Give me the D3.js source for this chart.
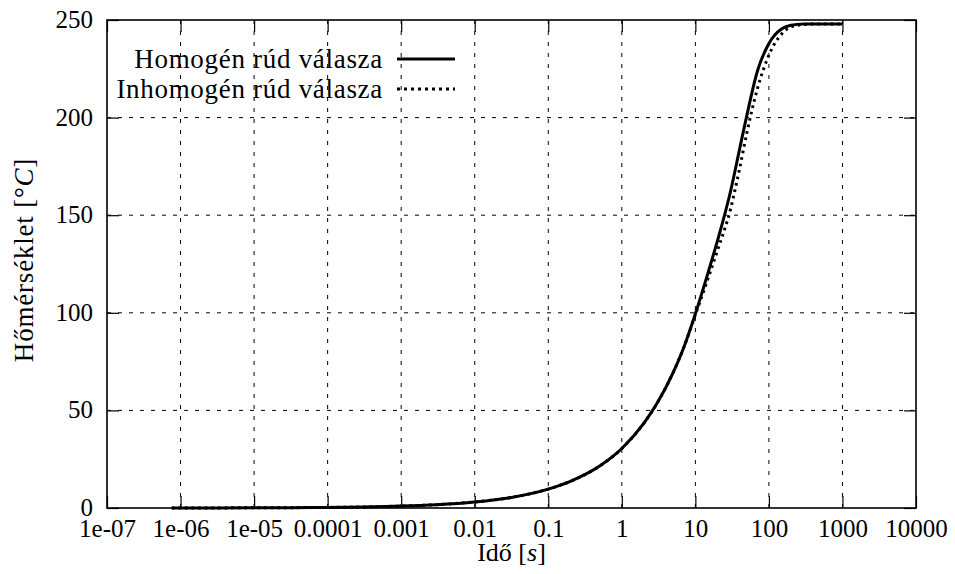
<!DOCTYPE html>
<html>
<head>
<meta charset="utf-8">
<script src="https://cdn.jsdelivr.net/npm/d3@7"></script>
<style>
  html, body { margin: 0; padding: 0; background: #fff; }
  svg { display: block; }
  text { font-family: "Liberation Serif", "DejaVu Serif", serif; fill: #000; }
</style>
</head>
<body>
<svg id="chart" width="955" height="574"></svg>
<script>
// Time samples [s] (log spaced)
const time = [7.6e-7, 1e-6, 3e-6, 1e-5, 3e-5, 1e-4, 3e-4, 1e-3, 3e-3, 1e-2, 3e-2,
              0.1, 0.2, 0.5, 1, 2, 3, 5, 7, 10, 15, 20, 30, 40, 50, 70, 100,
              150, 200, 300, 500, 1000];

// Temperature of the homogeneous rod [°C]
const homogen = [0.03, 0.03, 0.05, 0.1, 0.17, 0.3, 0.53, 0.97, 1.7, 3.1, 5.3,
                 9.7, 13.7, 21.5, 30.5, 43.5, 53.5, 69.5, 82.5, 99.5, 121, 137, 162, 184, 201, 224, 238,
                 245.5, 247.3, 247.9, 248, 248];

// Temperature of the inhomogeneous rod [°C]
const inhomogen = [0.03, 0.03, 0.05, 0.1, 0.17, 0.3, 0.53, 0.97, 1.7, 3.1, 5.3,
                   9.7, 13.7, 21.5, 30.5, 43.5, 53.5, 69.5, 82.5, 99, 118, 132, 153, 174, 192, 215, 232,
                   243, 246.5, 247.7, 248, 248];

const xTicks = [1e-7, 1e-6, 1e-5, 1e-4, 1e-3, 1e-2, 1e-1, 1, 10, 100, 1000, 10000];
const xTickLabels = ["1e-07", "1e-06", "1e-05", "0.0001", "0.001", "0.01", "0.1", "1", "10", "100", "1000", "10000"];
const yTicks = [0, 50, 100, 150, 200, 250];
const yTickLabels = ["0", "50", "100", "150", "200", "250"];

const seriesNames = ["Homogén rúd válasza", "Inhomogén rúd válasza"];

const plotL = 107, plotR = 916, plotT = 20, plotB = 508;
const svg = d3.select("#chart");

const x = d3.scaleLog().domain([1e-7, 1e4]).range([plotL, plotR]);
const y = d3.scaleLinear().domain([0, 250]).range([plotB, plotT]);

// grid
const grid = svg.append("g").attr("stroke", "#000").attr("stroke-width", 1)
  .attr("stroke-dasharray", "4,7").attr("fill", "none");
xTicks.slice(1, -1).forEach(t => {
  grid.append("line").attr("x1", x(t)).attr("x2", x(t)).attr("y1", plotB).attr("y2", plotT);
});
yTicks.slice(1, -1).forEach(v => {
  grid.append("line").attr("x1", plotL).attr("x2", plotR).attr("y1", y(v)).attr("y2", y(v));
});

// axes with inward ticks, mirrored on top/right
const tickLen = 12;
const fmtX = d => xTickLabels[xTicks.indexOf(d)];
const fmtY = d => yTickLabels[yTicks.indexOf(d)];

const axB = svg.append("g").attr("transform", `translate(0,${plotB})`)
  .call(d3.axisBottom(x).tickValues(xTicks).tickFormat(fmtX).tickSizeInner(-tickLen).tickSizeOuter(0).tickPadding(29));
const axT = svg.append("g").attr("transform", `translate(0,${plotT})`)
  .call(d3.axisTop(x).tickValues(xTicks).tickFormat("").tickSizeInner(-tickLen).tickSizeOuter(0));
const axL = svg.append("g").attr("transform", `translate(${plotL},0)`)
  .call(d3.axisLeft(y).tickValues(yTicks).tickFormat(fmtY).tickSizeInner(-tickLen).tickSizeOuter(0).tickPadding(14));
const axR = svg.append("g").attr("transform", `translate(${plotR},0)`)
  .call(d3.axisRight(y).tickValues(yTicks).tickFormat("").tickSizeInner(-tickLen).tickSizeOuter(0));

[axB, axT, axL, axR].forEach(a => {
  a.select(".domain").remove();
  a.selectAll(".tick line").attr("stroke", "#000").attr("stroke-width", 1.2);
  a.selectAll(".tick text").style("font-family", '"Liberation Serif", serif').style("font-size", "25px").attr("fill", "#000");
});
axB.selectAll(".tick text").attr("dy", "0");
axL.selectAll(".tick text").attr("dy", "0.3em");

// frame
svg.append("rect").attr("x", plotL).attr("y", plotT).attr("width", plotR - plotL).attr("height", plotB - plotT)
  .attr("fill", "none").attr("stroke", "#000").attr("stroke-width", 1.6);

// curves
const line = d3.line().x((d, i) => x(time[i])).y(d => y(d)).curve(d3.curveMonotoneX);

svg.append("path").datum(inhomogen).attr("d", line)
  .attr("fill", "none").attr("stroke", "#000").attr("stroke-width", 3)
  .attr("stroke-dasharray", "2.6,4");
svg.append("path").datum(homogen).attr("d", line)
  .attr("fill", "none").attr("stroke", "#000").attr("stroke-width", 3);

// legend
const legend = svg.append("g");
const legY = [59, 89];
seriesNames.forEach((name, i) => {
  legend.append("text").attr("x", 383).attr("y", legY[i]).attr("dy", "0.33em")
    .attr("text-anchor", "end").style("font-size", "27px").style("letter-spacing", "0.7px").text(name);
  legend.append("line").attr("x1", 397).attr("x2", 455).attr("y1", legY[i]).attr("y2", legY[i])
    .attr("stroke", "#000").attr("stroke-width", 3)
    .attr("stroke-dasharray", i === 0 ? null : "3,4");
});

// axis titles
const xTitle = svg.append("text").attr("x", (plotL + plotR) / 2).attr("y", 561)
  .attr("text-anchor", "middle").style("font-size", "26px");
xTitle.append("tspan").text("Idő [");
xTitle.append("tspan").style("font-style", "italic").text("s");
xTitle.append("tspan").text("]");

const yTitle = svg.append("text").attr("transform", `translate(33,${(plotT + plotB) / 2 - 4}) rotate(-90)`)
  .attr("text-anchor", "middle").style("font-size", "27px").style("letter-spacing", "0.8px");
yTitle.append("tspan").text("Hőmérséklet [°");
yTitle.append("tspan").style("font-style", "italic").text("C");
yTitle.append("tspan").text("]");
</script>
</body>
</html>
